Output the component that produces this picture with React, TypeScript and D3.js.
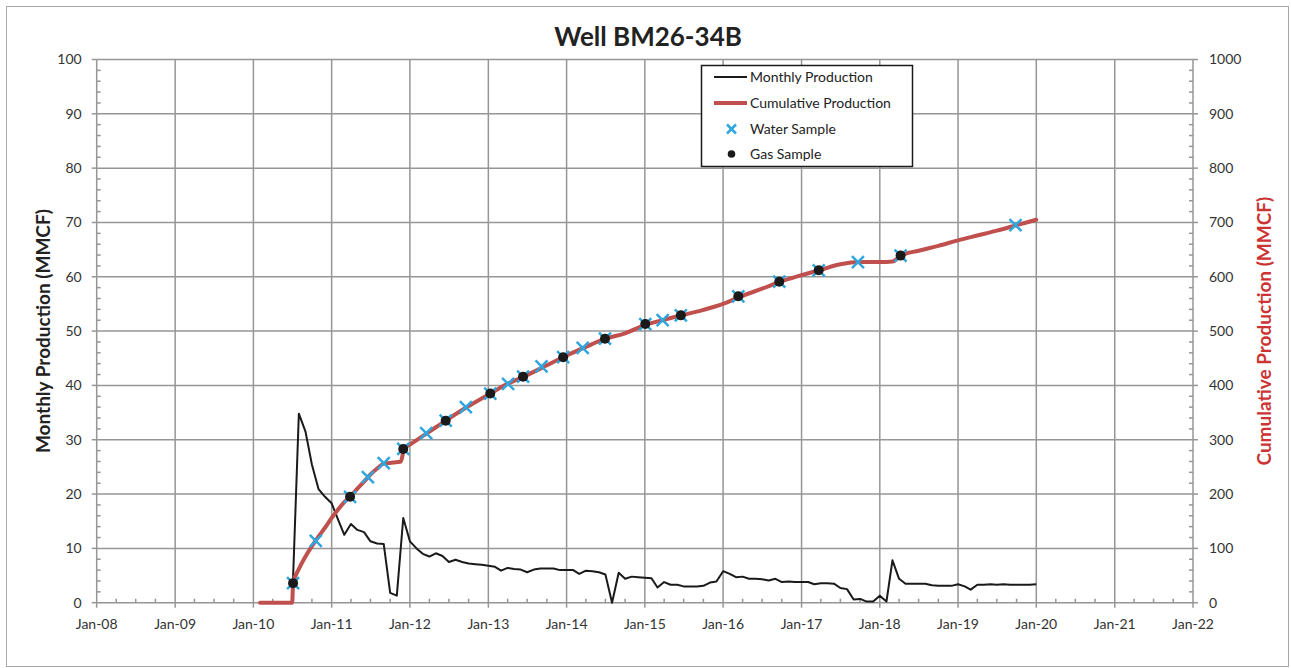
import React from "react";
import * as d3 from "d3";

const parse = d3.timeParse("%Y-%m-%d");

// monthly production (MMCF), one value per month starting Feb-2010
const monthlyStart = "2010-02-01";
const monthlyProduction = [
  // 2010 Feb-Dec
  0, 0, 0, 0, 0, 0, 34.8, 31.5, 25.4, 20.9, 19.5,
  // 2011
  18.3, 15.2, 12.5, 14.5, 13.4, 13.0, 11.3, 10.9, 10.8, 1.8, 1.3, 15.6,
  // 2012
  11.3, 10.0, 9.0, 8.5, 9.1, 8.6, 7.5, 7.9, 7.5, 7.2, 7.1, 7.0,
  // 2013
  6.8, 6.6, 5.9, 6.4, 6.2, 6.1, 5.6, 6.1, 6.3, 6.3, 6.3, 6.0,
  // 2014
  6.0, 6.0, 5.3, 5.9, 5.8, 5.6, 5.2, 0, 5.5, 4.4, 4.8, 4.7,
  // 2015
  4.6, 4.5, 2.8, 3.8, 3.3, 3.3, 3.0, 3.0, 3.0, 3.1, 3.7, 3.9,
  // 2016
  5.8, 5.3, 4.7, 4.8, 4.4, 4.4, 4.3, 4.1, 4.4, 3.8, 3.9, 3.8,
  // 2017
  3.8, 3.8, 3.4, 3.6, 3.6, 3.5, 2.7, 2.5, 0.6, 0.7, 0.2, 0.2,
  // 2018
  1.3, 0.2, 7.8, 4.4, 3.5, 3.5, 3.5, 3.5, 3.2, 3.1, 3.1, 3.1,
  // 2019
  3.4, 3.0, 2.4, 3.3, 3.3, 3.4, 3.3, 3.4, 3.3, 3.3, 3.3, 3.3,
  // 2020 Jan
  3.4,
];

// cumulative production (MMCF), right axis
const cumulativeDates = [
  "2010-02-01", "2010-07-01", "2010-07-05", "2010-08-01", "2010-09-01", "2010-10-01",
  "2010-11-01", "2010-12-01", "2011-01-01", "2011-02-01", "2011-03-01", "2011-04-01",
  "2011-05-01", "2011-06-01", "2011-07-01", "2011-08-01", "2011-09-01", "2011-10-15",
  "2011-11-20", "2011-12-05", "2012-01-01", "2012-04-01", "2012-07-01", "2012-10-01",
  "2013-01-01", "2013-04-01", "2013-07-01", "2013-10-01", "2014-01-01", "2014-04-01",
  "2014-07-01", "2014-10-01", "2015-01-01", "2015-04-01", "2015-07-01", "2015-10-01",
  "2016-01-01", "2016-04-01", "2016-07-01", "2016-10-01", "2017-01-01", "2017-04-01",
  "2017-07-01", "2017-10-01", "2018-01-01", "2018-03-01", "2018-04-10", "2018-07-01",
  "2018-10-01", "2019-01-01", "2019-04-01", "2019-07-01", "2019-10-01", "2020-01-01",
];
const cumulativeValues = [
  0, 0, 35, 62, 85, 104,
  122, 138, 156, 172, 185, 197,
  210, 223, 236, 247, 256, 258,
  260, 284, 291, 315, 339, 362,
  383, 403, 419, 437, 455, 471,
  486, 496, 511, 521, 530, 539,
  550, 565, 578, 592, 603, 613,
  623, 627, 627, 628, 639, 648,
  657, 667, 676, 685, 695, 705,
];

// sample points sit on the cumulative curve (right axis)
const waterDates = [
  "2010-07-05", "2010-10-19", "2011-03-28", "2011-06-19", "2011-09-01", "2011-12-01",
  "2012-03-17", "2012-06-16", "2012-09-18", "2013-01-10", "2013-04-03", "2013-06-12",
  "2013-09-06", "2013-12-16", "2014-03-17", "2014-06-29", "2015-01-03", "2015-03-25",
  "2015-06-18", "2016-03-12", "2016-09-19", "2017-03-22", "2017-09-21", "2018-04-08",
  "2019-09-26",
];
const waterValues = [
  36, 114, 195, 231, 257, 283,
  312, 335, 360, 385, 403, 416,
  435, 452, 469, 486, 513, 520,
  529, 564, 591, 612, 627, 639,
  695,
];
const gasDates = [
  "2010-07-05", "2011-03-28", "2011-12-01", "2012-06-16", "2013-01-10", "2013-06-12",
  "2013-12-16", "2014-06-29", "2015-01-03", "2015-06-18", "2016-03-12", "2016-09-19",
  "2017-03-22", "2018-04-08",
];
const gasValues = [36, 195, 283, 335, 385, 416, 452, 486, 513, 529, 564, 591, 612, 639];

const yearTicks = [
  "2008-01-01", "2009-01-01", "2010-01-01", "2011-01-01", "2012-01-01", "2013-01-01", "2014-01-01",
  "2015-01-01", "2016-01-01", "2017-01-01", "2018-01-01", "2019-01-01", "2020-01-01", "2021-01-01",
  "2022-01-01",
];
const leftTicks = [0, 10, 20, 30, 40, 50, 60, 70, 80, 90, 100];
const rightTicks = [0, 100, 200, 300, 400, 500, 600, 700, 800, 900, 1000];

const FONT = "Lato, 'Open Sans', sans-serif";
const GRID = "#969696";
const RED = "#c0504d";
const BLUE = "#2fa6de";

function Cross({ x, y, s, w }: { x: number; y: number; s: number; w: number }) {
  return (
    <path
      d={`M${x - s},${y - s}L${x + s},${y + s}M${x - s},${y + s}L${x + s},${y - s}`}
      stroke={BLUE}
      strokeWidth={w}
      fill="none"
    />
  );
}

export default function App() {
  const width = 1291;
  const height = 668;
  const left = 96.7;
  const right = 1193;
  const top = 59.5;
  const bottom = 602.7;

  const x = d3
    .scaleTime()
    .domain([parse("2008-01-01")!, parse("2022-01-01")!])
    .range([left, right]);
  const y = d3.scaleLinear().domain([0, 100]).range([bottom, top]);
  const y2 = d3.scaleLinear().domain([0, 1000]).range([bottom, top]);

  const start = parse(monthlyStart)!;
  const monthly = monthlyProduction.map((v, i) => ({ date: d3.timeMonth.offset(start, i), v }));
  const cumulative = cumulativeDates.map((d, i) => ({ date: parse(d)!, v: cumulativeValues[i] }));

  const monthlyLine = d3
    .line<{ date: Date; v: number }>()
    .x((d) => x(d.date))
    .y((d) => y(d.v));
  const cumLine = d3
    .line<{ date: Date; v: number }>()
    .x((d) => x(d.date))
    .y((d) => y2(d.v))
    .curve(d3.curveMonotoneX);

  const years = yearTicks.map((d) => parse(d)!);
  const quarters = d3.timeMonth
    .every(3)!
    .range(x.domain()[0], x.domain()[1])
    .filter((d) => d.getMonth() !== 0);
  const minorLeft = d3.range(0, 100, 2).filter((v) => v % 10 !== 0);
  const fmt = d3.timeFormat("%b-%y");

  const legendX = 701.5;
  const legendY = 65.5;

  return (
    <svg
      width={width}
      height={height}
      style={{ position: "absolute", left: 0, top: 0, background: "#fff" }}
      fontFamily={FONT}
    >
      <rect x={6.5} y={6.5} width={1282} height={660} fill="#fff" stroke="#a8a8a8" strokeWidth={1} />

      <text x={648} y={46} textAnchor="middle" fontSize={26} fontWeight="bold" fill="#222">
        Well BM26-34B
      </text>

      {/* grid */}
      <g stroke={GRID} strokeWidth={1.5}>
        {years.map((d, i) => (
          <line key={"v" + i} x1={x(d)} x2={x(d)} y1={top} y2={bottom} />
        ))}
        {leftTicks.map((v) => (
          <line key={"h" + v} x1={left} x2={right} y1={y(v)} y2={y(v)} />
        ))}
      </g>

      {/* ticks */}
      <g stroke={GRID} strokeWidth={1.5}>
        {leftTicks.map((v) => (
          <line key={"lt" + v} x1={left - 5} x2={left} y1={y(v)} y2={y(v)} />
        ))}
        {minorLeft.map((v) => (
          <line key={"lm" + v} x1={left} x2={left + 4} y1={y(v)} y2={y(v)} />
        ))}
        {rightTicks.map((v) => (
          <line key={"rt" + v} x1={right} x2={right + 5} y1={y2(v)} y2={y2(v)} />
        ))}
        {minorLeft.map((v) => (
          <line key={"rm" + v} x1={right - 4} x2={right} y1={y(v)} y2={y(v)} />
        ))}
        {years.map((d, i) => (
          <line key={"bt" + i} x1={x(d)} x2={x(d)} y1={bottom} y2={bottom + 5} />
        ))}
        {quarters.map((d, i) => (
          <line key={"bm" + i} x1={x(d)} x2={x(d)} y1={bottom - 4} y2={bottom} />
        ))}
      </g>

      {/* tick labels */}
      <g fontSize={14} fill="#333">
        {leftTicks.map((v) => (
          <text key={"ll" + v} x={left - 15} y={y(v)} dy="0.35em" textAnchor="end">
            {v}
          </text>
        ))}
        {rightTicks.map((v) => (
          <text key={"rl" + v} x={right + 16} y={y2(v)} dy="0.35em" textAnchor="start">
            {v}
          </text>
        ))}
        {years.map((d, i) => (
          <text key={"xl" + i} x={x(d)} y={bottom + 26} textAnchor="middle">
            {fmt(d)}
          </text>
        ))}
      </g>

      {/* axis titles */}
      <text
        transform={`translate(50, ${(top + bottom) / 2}) rotate(-90)`}
        textAnchor="middle"
        fontSize={19}
        fontWeight="bold"
        fill="#222"
      >
        Monthly Production (MMCF)
      </text>
      <text
        transform={`translate(1271, ${(top + bottom) / 2}) rotate(-90)`}
        textAnchor="middle"
        fontSize={19}
        fontWeight="bold"
        fill="#cc3333"
      >
        Cumulative Production (MMCF)
      </text>

      {/* series */}
      <path d={monthlyLine(monthly)!} fill="none" stroke="#1a1a1a" strokeWidth={2} strokeLinejoin="round" />
      <path d={cumLine(cumulative)!} fill="none" stroke={RED} strokeWidth={4} strokeLinejoin="round" strokeLinecap="round" />
      {waterDates.map((d, i) => (
        <Cross key={"w" + i} x={x(parse(d)!)} y={y2(waterValues[i])} s={6} w={2.5} />
      ))}
      {gasDates.map((d, i) => (
        <circle key={"g" + i} cx={x(parse(d)!)} cy={y2(gasValues[i])} r={5} fill="#1a1a1a" />
      ))}

      {/* legend */}
      <g>
        <rect x={legendX} y={legendY} width={211} height={101} fill="#fff" stroke="#1a1a1a" strokeWidth={1.5} />
        <line x1={714} x2={747} y1={77} y2={77} stroke="#1a1a1a" strokeWidth={2} />
        <line x1={714} x2={747} y1={103} y2={103} stroke={RED} strokeWidth={4} />
        <Cross x={731.5} y={129} s={4.5} w={2.5} />
        <circle cx={731.5} cy={154} r={3.8} fill="#1a1a1a" />
        <g fontSize={14} fill="#222">
          <text x={750} y={77} dy="0.35em">Monthly Production</text>
          <text x={750} y={103} dy="0.35em">Cumulative Production</text>
          <text x={750} y={129} dy="0.35em">Water Sample</text>
          <text x={750} y={154} dy="0.35em">Gas Sample</text>
        </g>
      </g>
    </svg>
  );
}
